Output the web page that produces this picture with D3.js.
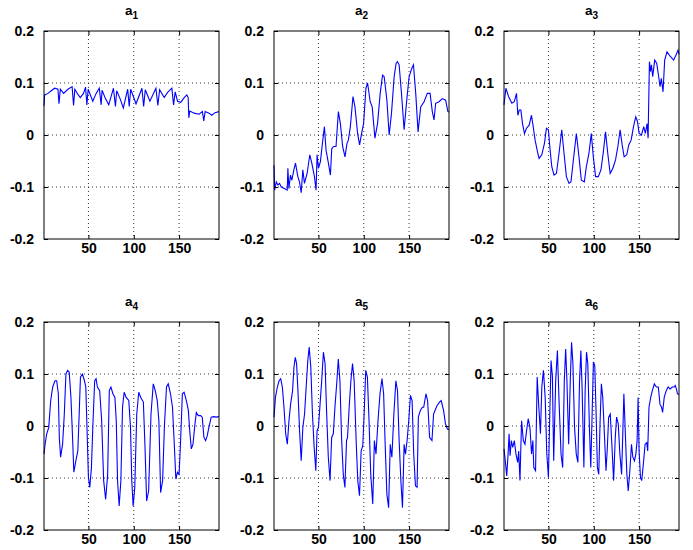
<!doctype html>
<html lang="en">
<head>
  <meta charset="UTF-8" />
  <script src="https://cdn.jsdelivr.net/npm/d3@7"></script>
  <style>
    body { margin: 0; background: white; }
    text { font-family: "Liberation Sans", Arial, Helvetica, sans-serif; font-weight: bold; }
    .tick line { stroke: black; }
    .grid { stroke: black; stroke-width: 0.8; stroke-dasharray: 1, 3; }
    .trace { fill: none; stroke: #0000ff; stroke-width: 1.1; }
  </style>
  <title>a1 - a6</title>
</head>
<body>
  <script>
    // [sample index, value]
    var a1 = [[1,0.056],[1.7,0.077],[5.4,0.08],[9,0.085],[12.7,0.09],[16.4,0.088],[17.5,0.06],[19,0.088],[22.6,0.08],[27.4,0.088],[32,0.093],[33.6,0.057],[35,0.088],[38.4,0.078],[41,0.072],[44.6,0.08],[46.8,0.092],[48.3,0.058],[49.7,0.088],[54.8,0.065],[58.5,0.08],[62,0.09],[64,0.058],[65,0.086],[68.8,0.07],[72.4,0.058],[77.6,0.09],[79.8,0.055],[81.2,0.085],[84.9,0.07],[88.5,0.052],[93.3,0.088],[95,0.055],[96.6,0.088],[102.5,0.06],[109,0.09],[110.9,0.055],[112.7,0.087],[117.8,0.065],[124.4,0.09],[126.6,0.057],[128.5,0.087],[133.6,0.072],[137.3,0.082],[142,0.09],[143.9,0.058],[145.7,0.083],[148.3,0.065],[151.9,0.063],[155.6,0.072],[158.5,0.077],[160,0.072],[160.7,0.033],[161.8,0.046],[166.6,0.042],[172,0.04],[175.7,0.045],[177.2,0.027],[178.7,0.045],[183,0.042],[186,0.038],[189.6,0.043],[194,0.045]];
    var a2 = [[1,-0.058],[1.7,-0.106],[3.5,-0.09],[5.3,-0.096],[7.1,-0.093],[9,-0.1],[12.6,-0.103],[15.6,-0.106],[16.3,-0.064],[17.4,-0.103],[19.2,-0.077],[20.7,-0.087],[22.9,-0.067],[24.7,-0.054],[27.3,-0.08],[29.1,-0.09],[31,-0.111],[32.8,-0.067],[34.6,-0.093],[37.5,-0.074],[40.5,-0.038],[42.7,-0.054],[45.6,-0.08],[47.4,-0.106],[48.5,-0.038],[50,-0.064],[52.2,-0.051],[54,-0.022],[56.6,0.016],[58.4,-0.029],[61,-0.054],[63.2,-0.077],[64.7,-0.026],[66.8,-0.022],[69.4,-0.022],[72,0.045],[74.2,0.022],[76.7,-0.022],[79.3,-0.042],[81.5,-0.016],[83,-0.01],[85.2,0.016],[88.1,0.074],[90.3,0.054],[93.2,0.003],[95.4,-0.019],[97.6,0.003],[99.8,0.022],[102.4,0.09],[104.2,0.1],[107.1,0.064],[109.3,0.054],[112.3,-0.006],[115.2,0.022],[118.1,0.08],[120.7,0.115],[122.5,0.112],[125.5,0.067],[128,0],[130.6,0.042],[133.5,0.112],[135.7,0.138],[137.2,0.141],[139,0.135],[141.6,0.08],[144.5,0.01],[147.4,0.067],[150,0.112],[152.9,0.128],[154.8,0.135],[157.3,0.08],[159.9,0.006],[162.8,0.054],[166.5,0.064],[170.1,0.08],[173.1,0.08],[175.6,0.045],[177.5,0.029],[179.3,0.061],[183,0.064],[186.6,0.07],[190.3,0.067],[192.8,0.045],[194,0.044]];
    var a3 = [[1,0.058],[3.1,0.09],[6,0.074],[9.7,0.061],[12.3,0.064],[14.8,0.08],[16.3,0.038],[17.8,0.048],[19.6,0.048],[21.4,0.022],[23.6,0.003],[25.8,0.013],[28.8,0.019],[31.3,0.038],[33.2,0.016],[35.3,-0.01],[37.9,-0.032],[39.7,-0.045],[42.7,-0.038],[45.6,-0.016],[47.8,0.013],[50,0.01],[51.5,-0.022],[53.7,-0.061],[56.2,-0.077],[58.8,-0.074],[61.7,-0.035],[64.7,0.01],[67.2,-0.035],[69.8,-0.08],[72.7,-0.093],[74.9,-0.09],[77.5,-0.048],[80.8,0.003],[83.7,-0.042],[86.3,-0.087],[89.6,-0.09],[91.8,-0.061],[94.7,-0.035],[97.3,0.003],[99.5,-0.042],[102,-0.08],[105,-0.08],[107.9,-0.067],[110.4,-0.035],[113,0.006],[115.6,-0.038],[118.1,-0.074],[121.1,-0.064],[124,-0.048],[126.6,-0.022],[129.1,0.01],[131.3,-0.019],[133.5,-0.042],[136.4,-0.038],[138.6,-0.019],[141.2,-0.01],[143.8,0.016],[146.3,0.035],[148.2,0.026],[150,0.003],[152.6,0],[155.1,0.016],[156.9,0.003],[158.8,0.022],[159.9,-0.006],[161.4,0.141],[162.5,0.122],[163.6,0.135],[165,0.112],[167.2,0.144],[169.4,0.138],[171.6,0.112],[173.1,0.093],[174.5,0.109],[176.4,0.083],[178.2,0.144],[180.8,0.16],[184.4,0.151],[188.1,0.144],[190.7,0.154],[192.9,0.163],[194,0.155]];
    var a4 = [[1,-0.054],[2.2,-0.035],[4,-0.015],[6.2,-0.003],[8.4,0.049],[10.6,0.075],[13.1,0.087],[15,0.087],[16.8,0.062],[17.9,-0.022],[19.3,-0.06],[21.5,-0.035],[23.4,0.023],[25.2,0.1],[27,0.107],[28.8,0.104],[30.7,0.055],[32.5,-0.022],[33.9,-0.089],[36.1,-0.067],[38.3,-0.048],[39.8,0.023],[41.2,0.094],[43.4,0.1],[45.6,0.087],[47.1,0.075],[48.5,-0.009],[50,-0.099],[51.5,-0.118],[53.3,-0.08],[55.1,0.01],[56.9,0.087],[58.4,0.091],[59.9,0.075],[62.4,0.068],[64.6,0.01],[66.8,-0.105],[69,-0.141],[71.2,-0.093],[73,0.068],[74.8,0.075],[77,0.062],[79.2,0.055],[80.7,0.01],[82.1,-0.105],[83.9,-0.154],[85.8,-0.105],[87.6,0.036],[89.4,0.065],[91.6,0.055],[94.5,0.049],[96.4,-0.003],[97.8,-0.105],[99.3,-0.154],[101.1,-0.118],[103.3,0.023],[105.5,0.065],[107.7,0.055],[110.6,0.046],[112.4,-0.041],[114.2,-0.144],[116.4,-0.125],[119,0.023],[121.5,0.081],[123.7,0.068],[125.9,0.049],[127.7,0.01],[129.6,-0.128],[131.8,-0.105],[133.9,0.004],[136.1,0.075],[138,0.081],[140.5,0.062],[142.7,0.036],[144.5,-0.028],[146.4,-0.102],[148.2,-0.089],[150,-0.093],[151.8,-0.022],[153.6,0.062],[155.5,0.065],[158,0.049],[160.2,0.03],[161.7,-0.009],[163.5,-0.044],[165.3,-0.035],[167.5,0.004],[169,0.026],[171.2,0.02],[173.7,0.02],[175.5,0.017],[177.4,-0.022],[179.2,-0.028],[181,-0.019],[182.8,-0.003],[185.4,0.017],[188.3,0.018],[190.9,0.017],[194,0.018]];
    var a5 = [[1,0.017],[2.6,0.055],[4.7,0.075],[6.6,0.087],[8.4,0.091],[10.2,0.075],[12,0.036],[13.9,-0.015],[15.7,-0.035],[17.5,0.01],[19.3,0.042],[21.5,0.068],[23,0.113],[24.5,0.132],[25.9,0.12],[27.4,0.068],[29.2,-0.009],[31,-0.067],[32.8,-0.003],[34.7,0.023],[36.9,0.087],[38.3,0.126],[39.8,0.152],[41.6,0.113],[43.4,0.023],[45.3,-0.041],[47.1,-0.086],[48.5,-0.009],[50,-0.003],[51.8,0.042],[53.6,0.087],[55.5,0.142],[57.3,0.12],[59.1,0.023],[60.9,-0.06],[62.8,-0.105],[64.6,-0.022],[66.4,-0.015],[68.2,0.036],[70.4,0.087],[71.9,0.129],[73.7,0.087],[75.5,-0.022],[77.4,-0.093],[79.2,-0.118],[81,-0.028],[82.1,-0.022],[83.9,0.036],[85.8,0.087],[87.6,0.12],[89.4,0.087],[91.6,-0.028],[93.4,-0.105],[95.3,-0.134],[97.1,-0.048],[98.9,-0.038],[100.4,0.023],[102.2,0.107],[104,0.094],[105.8,0.01],[107.7,-0.093],[109.9,-0.15],[111.7,-0.028],[113.5,-0.054],[115.7,0.01],[117.9,0.062],[120.1,0.091],[121.9,0.062],[123.7,-0.041],[125.5,-0.131],[127.4,-0.157],[129.2,-0.035],[131,-0.06],[133.2,0.023],[135.4,0.087],[137.2,0.068],[139,-0.028],[140.9,-0.105],[142.7,-0.157],[144.5,-0.035],[146,-0.054],[147.8,-0.028],[149.6,0.01],[151.5,0.059],[153.3,0.049],[155.1,-0.054],[157,-0.115],[158.8,-0.118],[160.2,0.017],[162.4,0.03],[164.6,0.036],[166.1,0.036],[168.6,0.062],[170.4,0.049],[172.6,-0.022],[175.2,-0.028],[177,0.023],[180.7,0.039],[183.6,0.046],[185.4,0.049],[188,0.03],[190.1,0.004],[192.3,-0.006],[194,-0.006]];
    var a6 = [[1,-0.044],[2.6,-0.07],[4,-0.096],[5.5,-0.054],[6.6,-0.015],[7.7,-0.057],[9.1,-0.028],[10.6,-0.041],[12.4,-0.028],[14.2,-0.054],[16.1,-0.07],[17.2,-0.048],[18.6,-0.105],[20.4,0.01],[22.3,-0.028],[24.1,-0.035],[25.9,-0.009],[27.7,0.014],[29.6,-0.003],[31.4,-0.054],[32.8,-0.028],[33.9,-0.08],[35.8,-0.086],[37.6,0.094],[39.4,0.036],[41.2,-0.015],[42.7,0.075],[44.5,0.107],[46.4,0.055],[48.2,-0.054],[50,-0.099],[51.5,0.023],[52.9,0.126],[54.4,0.094],[55.8,-0.067],[58,0.087],[59.9,0.145],[61.7,0.049],[63.9,-0.054],[65.7,-0.08],[67.5,0.087],[69,0.148],[70.4,0.087],[72.3,-0.035],[74.1,0.087],[75.5,0.161],[77,0.12],[78.8,-0.003],[80.7,-0.054],[82.5,-0.07],[84.3,0.087],[85.8,0.145],[87.2,0.068],[89.1,-0.08],[90.5,0.068],[92,0.142],[93.4,0.12],[95.3,-0.009],[96.7,-0.08],[98.2,0.023],[99.6,0.123],[101.1,0.116],[102.6,0.023],[104,-0.08],[105.5,-0.093],[106.9,0.004],[108.4,0.081],[109.9,0.055],[111.7,-0.015],[113.5,-0.086],[115,-0.041],[116.4,0.017],[118.2,0.023],[120.1,-0.041],[121.9,-0.105],[123.7,-0.022],[125.2,0.017],[127,0.004],[128.8,-0.054],[130.7,-0.093],[132.1,-0.009],[133.2,0.062],[134.7,-0.009],[136.5,-0.093],[138,-0.125],[139.8,-0.086],[141.6,-0.035],[143.1,-0.06],[144.9,-0.067],[146.4,-0.054],[147.8,-0.028],[148.9,0.055],[150,-0.048],[151.5,-0.099],[152.9,-0.105],[154.7,-0.073],[156.6,-0.035],[158.4,-0.032],[159.5,-0.048],[160.9,0.036],[162.8,0.055],[164.6,0.068],[166.8,0.081],[169,0.075],[171.2,0.075],[173,0.042],[174.8,0.036],[175.9,0.026],[177.7,0.055],[179.9,0.068],[182.1,0.075],[184.3,0.071],[186.5,0.075],[188.7,0.075],[189.8,0.078],[191.2,0.071],[192.3,0.062],[194,0.06]];

    var series = [a1, a2, a3, a4, a5, a6];
    var titles = ["1", "2", "3", "4", "5", "6"];
    var xTicks = [50, 100, 150];
    var yTicks = [-0.2, -0.1, 0, 0.1, 0.2];

    var lefts = [44, 274, 504], tops = [31, 322];
    var pw = 175, ph = 208;

    var svg = d3.select("body").append("svg")
      .attr("width", 693).attr("height", 550);

    var x = d3.scaleLinear().domain([1, 194]).range([0, pw]);
    var y = d3.scaleLinear().domain([-0.2, 0.2]).range([ph, 0]);

    var line = d3.line()
      .x(function (d) { return x(d[0]); })
      .y(function (d) { return y(d[1]); });

    series.forEach(function (s, i) {
      var g = svg.append("g")
        .attr("transform", "translate(" + lefts[i % 3] + "," + tops[Math.floor(i / 3)] + ")");

      // dotted grid
      g.append("g").selectAll("line").data(xTicks).enter().append("line")
        .attr("class", "grid")
        .attr("x1", function (d) { return x(d); }).attr("x2", function (d) { return x(d); })
        .attr("y1", 0).attr("y2", ph);
      g.append("g").selectAll("line").data(yTicks.slice(1, -1)).enter().append("line")
        .attr("class", "grid")
        .attr("x1", 0).attr("x2", pw)
        .attr("y1", function (d) { return y(d); }).attr("y2", function (d) { return y(d); });

      g.append("path").datum(s).attr("class", "trace").attr("d", line);

      // axes with inward ticks
      var ax = g.append("g").attr("transform", "translate(0," + ph + ")")
        .call(d3.axisBottom(x).tickValues(xTicks).tickSize(-4).tickPadding(4));
      var ay = g.append("g")
        .call(d3.axisLeft(y).tickValues(yTicks).tickSize(-4).tickPadding(10)
          .tickFormat(function (d) { return String(d); }));
      var at = g.append("g")
        .call(d3.axisTop(x).tickValues(xTicks).tickSize(-4).tickFormat(""));
      var ar = g.append("g").attr("transform", "translate(" + pw + ",0)")
        .call(d3.axisRight(y).tickValues(yTicks).tickSize(-4).tickFormat(""));
      [ax, ay, at, ar].forEach(function (a) {
        a.select(".domain").remove();
        a.attr("font-family", null).attr("font-size", null);
      });
      g.selectAll(".tick text")
        .style("font-family", "'Liberation Sans', Arial, sans-serif")
        .style("font-weight", "bold")
        .style("font-size", "14px")
        .style("fill", "black");

      g.append("rect").attr("width", pw).attr("height", ph)
        .attr("fill", "none").attr("stroke", "black").attr("stroke-width", 1);

      var t = g.append("text").attr("x", pw / 2).attr("y", -16)
        .attr("text-anchor", "middle").style("font-size", "13.5px");
      t.append("tspan").text("a");
      t.append("tspan").style("font-size", "10px").attr("dy", 4).text(titles[i]);
    });
  </script>
</body>
</html>
